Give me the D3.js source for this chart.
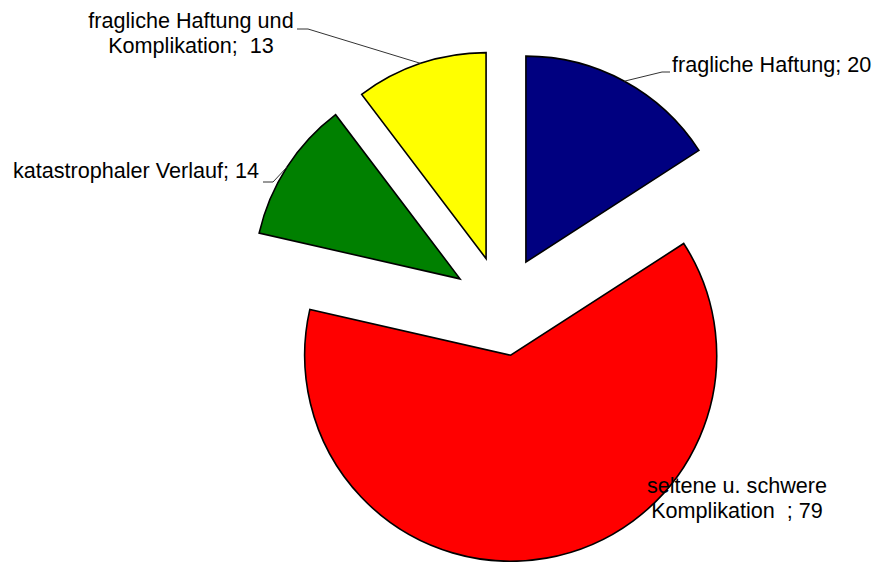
<!DOCTYPE html>
<html>
<head>
<meta charset="utf-8">
<script src="https://cdn.jsdelivr.net/npm/d3@7"></script>
<style>
  body { margin: 0; background: #fff; }
  text { font-family: Arial, "Liberation Sans", sans-serif; font-size: 21.6px; fill: #000; }
</style>
</head>
<body>
<div id="chart"></div>
<script>
const categories = ['fragliche Haftung', 'seltene u. schwere Komplikation ', 'katastrophaler Verlauf', 'fragliche Haftung und Komplikation'];
const values = [20, 79, 14, 13];
const colors = ['#000080', '#ff0000', '#008000', '#ffff00'];
// label lines, as in the source chart
const labelLines = [
  ['fragliche Haftung; 20'],
  ['seltene u. schwere', 'Komplikation  ; 79'],
  ['katastrophaler Verlauf; 14'],
  ['fragliche Haftung und', 'Komplikation;  13']
];

const width = 877;
const height = 562;
const cx = 502;
const cy = 306;
const radius = 206;
const explode = 50;

// label placement: anchor point, text anchor, leader elbow
const labelPos = [
  { x: 672, y: 72, anchor: 'start', elbow: [662, 72], end: [670, 72] },
  { x: 737, y: 493, anchor: 'middle' },
  { x: 259, y: 178, anchor: 'end', elbow: [273, 182], end: [263, 182] },
  { x: 191, y: 28, anchor: 'middle', elbow: [308, 29], end: [297, 29] }
];

const data = categories.map((c, i) => ({ name: c, value: values[i], i }));

const svg = d3.select('#chart').append('svg')
  .attr('width', width)
  .attr('height', height);

const g = svg.append('g')
  .attr('transform', `translate(${cx},${cy})`);

const pie = d3.pie()
  .sort(null)
  .value(d => d.value);

const arc = d3.arc()
  .innerRadius(0)
  .outerRadius(radius);

const arcs = pie(data);

function offset(d) {
  const a = (d.startAngle + d.endAngle) / 2;
  return [explode * Math.sin(a), -explode * Math.cos(a)];
}

g.selectAll('path.slice')
  .data(arcs)
  .enter().append('path')
  .attr('class', 'slice')
  .attr('transform', d => `translate(${offset(d)})`)
  .attr('d', arc)
  .attr('fill', d => colors[d.data.i])
  .attr('stroke', '#000')
  .attr('stroke-width', 1.6)
  .attr('stroke-linejoin', 'miter');

// leader lines from the middle of each arc
arcs.forEach((d) => {
  const p = labelPos[d.data.i];
  if (!p.elbow) return;
  const a = (d.startAngle + d.endAngle) / 2;
  const o = offset(d);
  const ax = cx + o[0] + radius * Math.sin(a);
  const ay = cy + o[1] - radius * Math.cos(a);
  svg.append('polyline')
    .attr('points', `${ax},${ay} ${p.elbow[0]},${p.elbow[1]} ${p.end[0]},${p.end[1]}`)
    .attr('fill', 'none')
    .attr('stroke', '#333')
    .attr('stroke-width', 1);
});

arcs.forEach((d) => {
  const p = labelPos[d.data.i];
  const t = svg.append('text')
    .attr('x', p.x)
    .attr('y', p.y)
    .attr('text-anchor', p.anchor)
    .style('white-space', 'pre');
  labelLines[d.data.i].forEach((line, k) => {
    t.append('tspan')
      .attr('x', p.x)
      .attr('dy', k === 0 ? 0 : 25)
      .text(line);
  });
});
</script>
</body>
</html>
